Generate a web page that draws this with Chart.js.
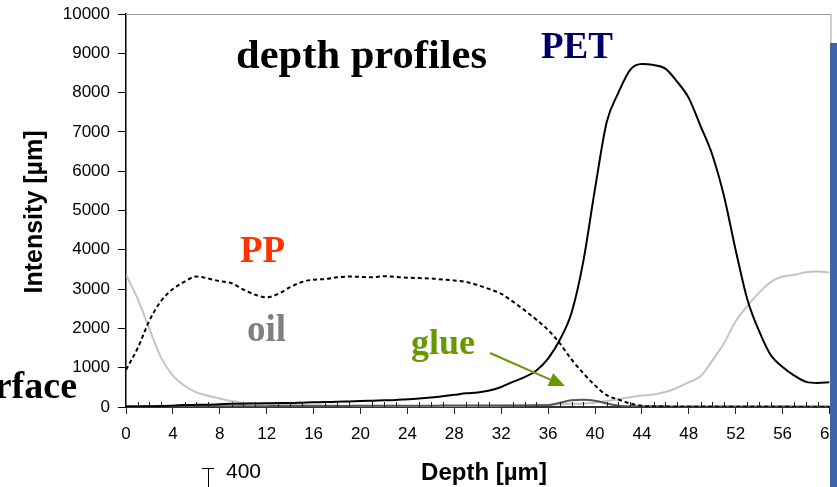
<!DOCTYPE html>
<html>
<head>
<meta charset="utf-8">
<script src="https://cdn.jsdelivr.net/npm/chart.js@4/dist/chart.umd.min.js"></script>
<style>
  html, body { margin: 0; padding: 0; background: #fff; }
  #wrap { width: 837px; height: 487px; }
</style>
</head>
<body>
<div id="wrap"><canvas id="c" width="837" height="487"></canvas></div>
<script>
// Depth in µm (one sample per micrometre)
const depths = [
  0, 1, 2, 3, 4, 5, 6, 7, 8, 9,
  10, 11, 12, 13, 14, 15, 16, 17, 18, 19,
  20, 21, 22, 23, 24, 25, 26, 27, 28, 29,
  30, 31, 32, 33, 34, 35, 36, 37, 38, 39,
  40, 41, 42, 43, 44, 45, 46, 47, 48, 49,
  50, 51, 52, 53, 54, 55, 56, 57, 58, 59, 60
];

// Intensity profiles
const petValues = [
  10, 15, 20, 25, 35, 50, 55, 60, 70, 80,
  85, 90, 95, 100, 100, 110, 120, 125, 135, 142,
  150, 160, 170, 180, 200, 215, 240, 275, 310, 350,
  370, 420, 510, 640, 760, 930, 1230, 1711, 2400, 3700,
  5550, 7250, 8000, 8580, 8725, 8700, 8610, 8280, 7860, 7150,
  6420, 5370, 3990, 2730, 1930, 1315, 1020, 800, 640, 612, 630
];
const ppValues = [
  949, 1500, 2200, 2700, 3000, 3190, 3320, 3270, 3200, 3150,
  2990, 2860, 2790, 2880, 3050, 3180, 3240, 3255, 3300, 3320,
  3310, 3300, 3330, 3310, 3290, 3280, 3270, 3245, 3220, 3185,
  3100, 3000, 2880, 2680, 2460, 2220, 1960, 1620, 1210, 860,
  550, 300, 190, 90, 30, 12, 10, 8, 8, 6,
  6, 5, 5, 5, 4, 4, 4, 3, 3, 3, 3
];
const oilValues = [
  3365, 2750, 1980, 1250, 800, 540, 371, 285, 215, 150,
  110, 92, 80, 65, 58, 50, 45, 40, 35, 30,
  28, 25, 25, 22, 20, 20, 20, 22, 25, 25,
  28, 30, 35, 40, 45, 55, 60, 70, 80, 90,
  110, 150, 200, 250, 290, 320, 380, 490, 630, 780,
  1180, 1620, 2180, 2570, 2910, 3180, 3320, 3360, 3430, 3450, 3420
];
const glueValues = [
  10, 12, 12, 14, 15, 15, 16, 18, 18, 20,
  20, 22, 22, 24, 24, 25, 26, 26, 28, 28,
  30, 30, 30, 32, 32, 34, 34, 35, 35, 36,
  36, 38, 38, 40, 40, 42, 45, 110, 170, 185,
  160, 90, 35, 20, 18, 16, 16, 15, 15, 14,
  14, 14, 13, 13, 12, 12, 12, 12, 12, 12, 12
];

// Axis ticks
const xMajorTicks = [0, 4, 8, 12, 16, 20, 24, 28, 32, 36, 40, 44, 48, 52, 56, 60];
const yTicks = [0, 1000, 2000, 3000, 4000, 5000, 6000, 7000, 8000, 9000, 10000];

const pts = vals => depths.map((d, i) => ({ x: d, y: vals[i] }));

const SANS = '"Liberation Sans", Arial, sans-serif';
const SERIF = '"Liberation Serif", "Times New Roman", serif';

// Frame, minor ticks, labels and captions drawn on top of the chart
const decorations = {
  id: 'decorations',
  beforeDatasetsDraw(chart) {
    const { ctx, chartArea: a, scales: { y } } = chart;
    ctx.save();
    // light frame along top and right
    const top = Math.round(y.getPixelForValue(10000)) + 0.5;
    ctx.strokeStyle = '#9a9a9a';
    ctx.lineWidth = 1;
    ctx.beginPath();
    ctx.moveTo(a.left, top);
    ctx.lineTo(a.right + 1.5, top);
    ctx.lineTo(a.right + 1.5, a.bottom);
    ctx.stroke();
    ctx.restore();
  },
  afterDraw(chart) {
    const { ctx, chartArea: a, scales: { x } } = chart;
    ctx.save();
    // minor ticks pointing inward every 1 µm
    ctx.strokeStyle = '#222';
    ctx.lineWidth = 1;
    ctx.beginPath();
    for (let d = 0; d <= 60; d++) {
      if (xMajorTicks.includes(d)) continue;
      const px = Math.round(x.getPixelForValue(d)) + 0.5;
      ctx.moveTo(px, a.bottom);
      ctx.lineTo(px, a.bottom - 5);
    }
    ctx.stroke();

    const txt = (s, px, py, font, color, align, width) => {
      ctx.font = font;
      ctx.fillStyle = color;
      ctx.textAlign = align || 'left';
      ctx.textBaseline = 'alphabetic';
      if (width) {
        const w = ctx.measureText(s).width;
        ctx.save();
        ctx.translate(px, py);
        ctx.scale(width / w, 1);
        ctx.fillText(s, 0, 0);
        ctx.restore();
      } else {
        ctx.fillText(s, px, py);
      }
    };

    txt('depth profiles', 236, 68, 'bold 40px ' + SERIF, '#000', 'left', 251);
    txt('PET', 541, 58, 'bold 37px ' + SERIF, '#000066');
    txt('PP', 240, 262, 'bold 37px ' + SERIF, '#ff3300');
    txt('oil', 247, 341, 'bold 37px ' + SERIF, '#808080');
    txt('glue', 411, 354, 'bold 36px ' + SERIF, '#669900');
    txt('Surface', 77, 398, 'bold 38px ' + SERIF, '#000', 'right');

    // arrow pointing at the glue signal
    ctx.strokeStyle = '#669900';
    ctx.fillStyle = '#669900';
    ctx.lineWidth = 2;
    const x0 = 490, y0 = 353, x1 = 565, y1 = 386;
    const ang = Math.atan2(y1 - y0, x1 - x0);
    const hl = 16, hw = 7;
    const bx = x1 - hl * Math.cos(ang), by = y1 - hl * Math.sin(ang);
    ctx.beginPath();
    ctx.moveTo(x0, y0);
    ctx.lineTo(bx, by);
    ctx.stroke();
    ctx.beginPath();
    ctx.moveTo(x1, y1);
    ctx.lineTo(bx + hw * Math.sin(ang), by - hw * Math.cos(ang));
    ctx.lineTo(bx - hw * Math.sin(ang), by + hw * Math.cos(ang));
    ctx.closePath();
    ctx.fill();

    // axis titles
    txt('Depth [µm]', 484, 480, 'bold 24px ' + SANS, '#000', 'center');
    ctx.save();
    ctx.translate(42, 212);
    ctx.rotate(-Math.PI / 2);
    txt('Intensity [µm]', 0, 0, 'bold 25px ' + SANS, '#000', 'center');
    ctx.restore();

    // stray scale marker below the axis
    ctx.strokeStyle = '#000';
    ctx.lineWidth = 1;
    ctx.beginPath();
    ctx.moveTo(202, 468.5);
    ctx.lineTo(214, 468.5);
    ctx.moveTo(208.5, 468.5);
    ctx.lineTo(208.5, 487);
    ctx.stroke();
    txt('400', 226, 478, '21px ' + SANS, '#000');

    // blue side bar
    ctx.fillStyle = '#3e63a8';
    ctx.fillRect(830, 43, 7, 444);
    ctx.restore();
  }
};

new Chart(document.getElementById('c'), {
  type: 'line',
  data: {
    datasets: [
      { label: 'PET', data: pts(petValues), borderColor: '#000', borderWidth: 2 },
      { label: 'PP', data: pts(ppValues), borderColor: '#000', borderWidth: 2, borderDash: [4, 3] },
      { label: 'glue', data: pts(glueValues), borderColor: '#555', borderWidth: 2 },
      { label: 'oil', data: pts(oilValues), borderColor: '#c4c4c4', borderWidth: 2 }
    ]
  },
  options: {
    responsive: false,
    animation: false,
    devicePixelRatio: 1,
    layout: { padding: { left: 0, top: 14, right: 7.5, bottom: 0 } },
    elements: {
      point: { radius: 0 },
      line: { cubicInterpolationMode: 'monotone', fill: false }
    },
    plugins: { legend: { display: false }, tooltip: { enabled: false } },
    scales: {
      x: {
        type: 'linear',
        min: 0,
        max: 60,
        afterBuildTicks: s => { s.ticks = xMajorTicks.map(v => ({ value: v })); },
        afterFit: s => { s.height = 80; s.paddingLeft = 0; s.paddingRight = 0; },
        ticks: { color: '#000', font: { family: SANS, size: 17 }, padding: 10, maxRotation: 0, autoSkip: false },
        grid: { drawOnChartArea: false, drawTicks: true, tickLength: 7, color: '#222', lineWidth: 1 },
        border: { display: true, color: '#333', width: 2 }
      },
      y: {
        min: 0,
        max: 10000,
        afterBuildTicks: s => { s.ticks = yTicks.map(v => ({ value: v })); },
        afterFit: s => { s.width = 126; s.paddingTop = 0; s.paddingBottom = 0; },
        ticks: { color: '#000', font: { family: SANS, size: 17 }, padding: 8, callback: v => String(v) },
        grid: { drawOnChartArea: false, drawTicks: true, tickLength: 8, color: '#000', lineWidth: 1 },
        border: { display: true, color: '#000', width: 1.5 }
      }
    }
  },
  plugins: [decorations]
});
</script>
</body>
</html>
